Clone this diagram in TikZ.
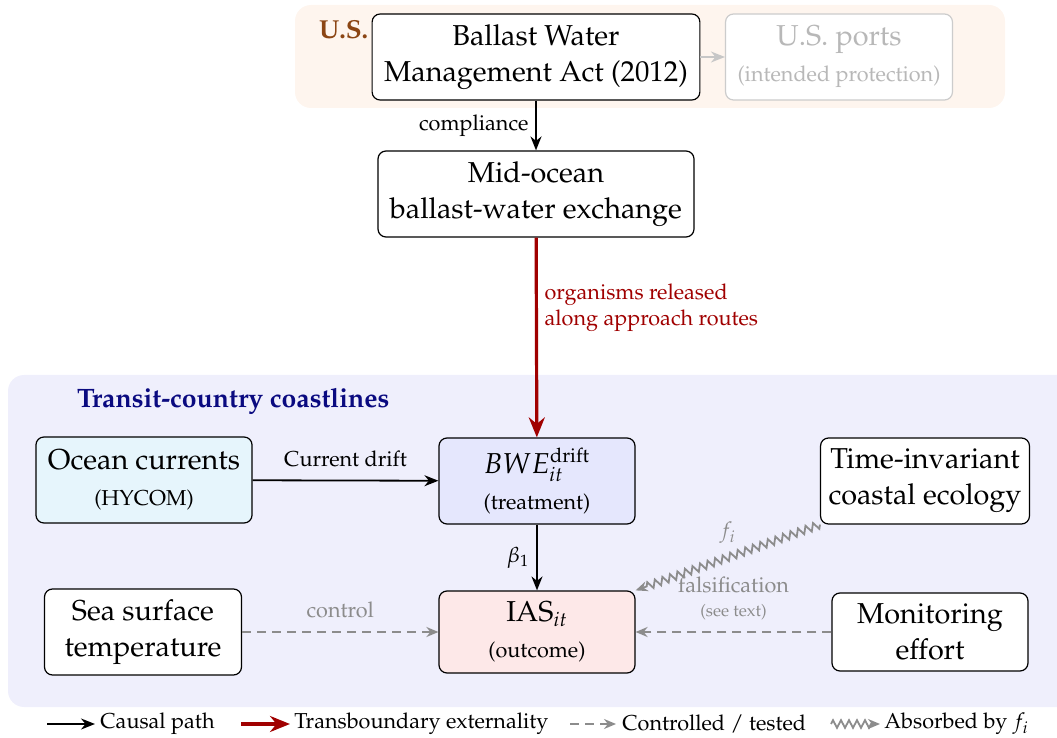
\documentclass[tikz,border=0pt]{standalone}
\usepackage[T1]{fontenc}
\usepackage{mathpazo}
\usetikzlibrary{arrows.meta,decorations.pathmorphing}
\definecolor{usbrown}{RGB}{139,69,19}
\definecolor{usband}{RGB}{254,245,238}
\definecolor{transband}{RGB}{239,239,252}
\definecolor{navytitle}{RGB}{10,10,128}
\definecolor{extred}{RGB}{160,0,0}
\definecolor{ctrlgray}{RGB}{140,140,140}
\definecolor{oceanfill}{RGB}{230,245,252}
\definecolor{bwefill}{RGB}{229,231,253}
\definecolor{iasfill}{RGB}{253,232,232}
\newcommand{\lbl}{\fontsize{10.8}{13}\selectfont}

\begin{document}
\begin{tikzpicture}[x=0.5pt,y=-0.5pt, font=\lbl,
    box/.style={draw, rounded corners=4pt, align=center, font=\Large,
        inner xsep=6pt, minimum height=43pt, line width=0.6pt},
    causal/.style={-{Stealth[length=7pt,width=5.5pt]}, line width=0.9pt},
    extern/.style={-{Stealth[length=10pt,width=8pt]}, line width=1.6pt, draw=extred},
    ctrl/.style={-{Stealth[length=6pt,width=5pt]}, dash pattern=on 4.5pt off 3pt,
        line width=0.9pt, draw=ctrlgray},
    absorb/.style={-{Stealth[length=6pt,width=5pt]}, line width=0.9pt, draw=ctrlgray,
        decorate, decoration={zigzag, segment length=4pt, amplitude=1.9pt, post length=5pt}}]
    \useasboundingbox (0,0) rectangle (1057,738);

    % bands
    \fill[usband, rounded corners=8pt] (295,5) rectangle (1005,108);
    \fill[transband, rounded corners=8pt] (8,375) rectangle (1075,707);
    \node[anchor=west, font=\fontsize{13}{15}\bfseries, text=usbrown] (uslab) at (312,30) {U.S.};
    \node[anchor=west, font=\fontsize{13.3}{16}\bfseries, text=navytitle] (translab) at (70,401) {Transit-country coastlines};

    % boxes
    \node[box, fill=white] (bwma) at (536,57) {Ballast Water\\Management Act (2012)};
    \node[box, fill=white, draw=black!20, text=black!28] (ports) at (839,57) {U.S. ports\\{\lbl (intended protection)}};
    \node[box, fill=white] (moe) at (536,194) {Mid-ocean\\ballast-water exchange};
    \node[box, fill=oceanfill] (ocean) at (144,480) {Ocean currents\\{\lbl (HYCOM)}};
    \node[box, fill=bwefill, minimum width=98pt] (bwe) at (537,481) {$BWE_{it}^{\mathrm{drift}}$\\{\lbl (treatment)}};
    \node[box, fill=white, inner xsep=4pt] (eco) at (925,481) {Time-invariant\\coastal ecology};
    \node[box, fill=white, minimum width=98.5pt] (sst) at (143,632) {Sea surface\\temperature};
    \node[box, fill=iasfill, minimum width=98pt, minimum height=41pt] (ias) at (537,632) {IAS$_{it}$\\{\lbl (outcome)}};
    \node[box, fill=white, minimum width=98pt, minimum height=39pt] (mon) at (930,632) {Monitoring\\effort};

    % arrows
    \draw[causal, draw=black!22, line width=0.7pt] (bwma) -- (ports);
    \draw[causal] (bwma) -- node[left] {compliance} (moe);
    \draw[extern] (moe) -- node[pos=0.35, right, align=left, text=extred] {organisms released\\along approach routes} (bwe);
    \draw[causal] (ocean) -- node[above=3pt] {Current drift} (bwe);
    \draw[causal] (bwe) -- node[left] {$\beta_1$} (ias);
    \draw[ctrl] (sst) -- node[above=3pt, text=black!45] {control} (ias);
    \draw[ctrl] (mon) -- node[above=2pt, align=center, text=black!45] {falsification\\[-1pt]{\fontsize{8.4}{10}\selectfont (see text)}} (ias);
    \draw[absorb] (eco.south west) -- node[above=3pt, text=black!45] {$f_i$} (ias.north east);

    % legend
    \coordinate (l1) at (47,724);
    \node[anchor=west, inner sep=0pt] (t1) at (100,724) {Causal path};
    \draw[causal, shorten >=2.5pt] (l1) -- (t1.west);
    \coordinate (l2) at (241,724);
    \node[anchor=west, inner sep=0pt] (t2) at (294,724) {Transboundary externality};
    \draw[extern, shorten >=2pt] (l2) -- (t2.west);
    \coordinate (l3) at (570,724);
    \node[anchor=west, inner sep=0pt] (t3) at (622,724) {Controlled / tested};
    \draw[ctrl, shorten >=3pt] (l3) -- (t3.west);
    \coordinate (l4) at (831,724);
    \node[anchor=west, inner sep=0pt] (t4) at (884,724) {Absorbed by $f_i$};
    \draw[absorb, shorten >=2pt] (l4) -- (t4.west);
\end{tikzpicture}
\end{document}
